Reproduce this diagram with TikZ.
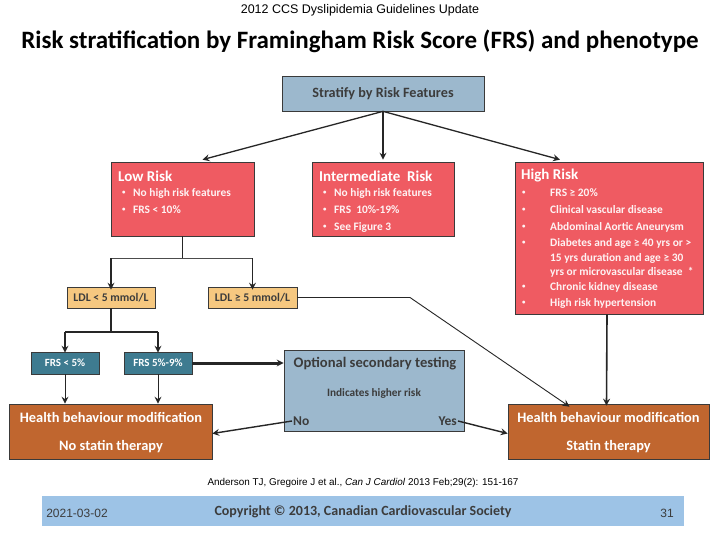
\documentclass[tikz,border=0pt]{standalone}
\usepackage{fontspec}
\setmainfont{Carlito}
\newfontfamily\arialfont{Liberation Sans}
\usetikzlibrary{arrows.meta,calc}
\definecolor{redbox}{HTML}{EF5B62}
\definecolor{bluebox}{HTML}{9CB8CD}
\definecolor{ldlbox}{HTML}{F6C880}
\definecolor{tealbox}{HTML}{3E7B90}
\definecolor{brownbox}{HTML}{C0662F}
\definecolor{footbar}{HTML}{9DC3E6}
\definecolor{darktxt}{HTML}{3C3C3C}
\definecolor{edge}{HTML}{3A3A3A}
\newcommand{\smbul}{\raisebox{0.15ex}{\scalebox{0.6}{\textbullet}}}
\tikzset{
  box/.style={draw=edge, line width=0.7pt, inner sep=0pt, anchor=center},
  redrect/.style={box, fill=redbox},
  bluerect/.style={box, fill=bluebox},
  ldlrect/.style={box, fill=ldlbox, font=\bfseries\fontsize{11.7}{13}\selectfont, text=darktxt},
  tealrect/.style={box, fill=tealbox, font=\bfseries\fontsize{11}{12}\selectfont, text=white},
  brownrect/.style={box, fill=brownbox},
  ttl/.style={anchor=west, inner sep=0pt, text=white, font=\bfseries\fontsize{15}{17}\selectfont},
  itm/.style={anchor=west, inner sep=0pt, text=white!92!redbox, font=\bfseries\fontsize{11.4}{13}\selectfont},
  wtxt/.style={inner sep=0pt, text=white, font=\bfseries\fontsize{14.4}{16}\selectfont},
  arr/.style={-{Stealth[length=7pt,width=7pt,inset=2.5pt]}, line width=1.6pt, draw=black!85},
  thinarr/.style={-{Stealth[length=7pt,width=7pt,inset=2.5pt]}, line width=0.9pt, draw=black!85},
}
\begin{document}
\begin{tikzpicture}[x=1pt,y=-1pt]
\useasboundingbox[fill=white] (0,0) rectangle (720,540);
% header
\node[inner sep=0pt, font=\arialfont\fontsize{12.5}{14}\selectfont] (hdr) at (360,10) {2012 CCS Dyslipidemia Guidelines Update};
\node[inner sep=0pt, font=\bfseries\fontsize{25}{28}\selectfont] (title) at (360,41) {Risk stratification by Framingham Risk Score (FRS) and phenotype};

% top box
\node[bluerect, minimum width=202pt, minimum height=35pt, font=\bfseries\fontsize{14.2}{16}\selectfont, text=darktxt] (strat) at (383,93.5) {Stratify by Risk Features};

% risk boxes
\node[redrect, minimum width=143pt, minimum height=74pt] (low) at (182.5,199) {};
\node[redrect, minimum width=142pt, minimum height=74pt] (mid) at (383,199) {};
\node[redrect, minimum width=188pt, minimum height=152pt] (high) at (609,238) {};

\node[ttl] (lowt) at (118,176) {Low Risk};
\node[itm] (lowb1) at (122,193) {\smbul};
\node[itm] (lowi1) at (133,193) {No high risk features};
\node[itm] (lowb2) at (122,210) {\smbul};
\node[itm] (lowi2) at (133,210) {FRS < 10\%};

\node[ttl] (midt) at (319,176) {Intermediate\ \ Risk};
\node[itm] (midb1) at (323,193) {\smbul};
\node[itm] (midi1) at (334,193) {No high risk features};
\node[itm] (midb2) at (323,210) {\smbul};
\node[itm] (midi2) at (334,210) {FRS\ \ 10\%-19\%};
\node[itm] (midb3) at (323,227) {\smbul};
\node[itm] (midi3) at (334,227) {See Figure 3};

\node[ttl] (hight) at (521,176) {High Risk};
\node[itm] (hb1) at (522,193) {\smbul};
\node[itm] (hi1) at (550,193) {FRS ≥ 20\%};
\node[itm] (hb2) at (522,210) {\smbul};
\node[itm] (hi2) at (550,210) {Clinical vascular disease};
\node[itm] (hb3) at (522,227) {\smbul};
\node[itm] (hi3) at (550,227) {Abdominal Aortic Aneurysm};
\node[itm] (hb4) at (522,243) {\smbul};
\node[itm] (hi4a) at (550,243) {Diabetes and age ≥ 40 yrs or >};
\node[itm] (hi4b) at (550,258) {15 yrs duration and age ≥ 30};
\node[itm] (hi4c) at (550,272) {yrs or microvascular disease\ \ *};
\node[itm] (hb5) at (522,287) {\smbul};
\node[itm] (hi5) at (550,287) {Chronic kidney disease};
\node[itm] (hb6) at (522,303) {\smbul};
\node[itm] (hi6) at (550,303) {High risk hypertension};

% LDL boxes
\node[ldlrect, minimum width=88pt, minimum height=21pt] (ldl1) at (111,297.5) {LDL < 5 mmol/L};
\node[ldlrect, minimum width=89pt, minimum height=21pt] (ldl2) at (252.5,297.5) {LDL ≥ 5 mmol/L};

% FRS boxes
\node[tealrect, minimum width=68pt, minimum height=22pt] (frs1) at (65,363) {FRS < 5\%};
\node[tealrect, minimum width=68pt, minimum height=22pt] (frs2) at (158,363) {FRS 5\%-9\%};

% optional
\node[bluerect, minimum width=180pt, minimum height=81pt] (opt) at (374,390.5) {};
\node[inner sep=0pt, font=\bfseries\fontsize{14.6}{16}\selectfont, text=darktxt] (optt) at (375,364) {Optional secondary testing};
\node[inner sep=0pt, font=\bfseries\fontsize{11.3}{13}\selectfont, text=darktxt] (opti) at (374,393) {Indicates higher risk};
\node[inner sep=0pt, anchor=west, font=\bfseries\fontsize{13.5}{15}\selectfont, text=darktxt] (no) at (293,421) {No};
\node[inner sep=0pt, anchor=east, font=\bfseries\fontsize{13.5}{15}\selectfont, text=darktxt] (yes) at (457,421) {Yes};

% outcome boxes
\node[brownrect, minimum width=203pt, minimum height=55pt] (hbl) at (110.5,431.5) {};
\node[wtxt] (hbl1) at (111,417) {Health behaviour modification};
\node[wtxt] (hbl2) at (111,447) {No statin therapy};
\node[brownrect, minimum width=201pt, minimum height=55pt] (hbr) at (608.5,431.5) {};
\node[wtxt] (hbr1) at (608.5,417) {Health behaviour modification};
\node[wtxt] (hbr2) at (608.5,447) {Statin therapy};

% connectors
\draw[arr, line width=1.3pt] (strat.south) -- ([xshift=20pt,yshift=2pt]low.north);
\draw[arr, line width=1.3pt] (strat.south) -- ([yshift=2pt]mid.north);
\draw[arr, line width=1.3pt] (strat.south) -- ([xshift=-49pt,yshift=2pt]high.north);

\coordinate (j1) at (182.5,258);
\draw[line width=1.8pt, draw=black!85] (low.south) -- (j1);
\draw[line width=0.9pt, draw=black!70] (ldl1.north |- j1) -- (ldl2.north |- j1);
\draw[arr] (ldl1.north |- j1) -- ([yshift=-3pt]ldl1.north);
\draw[arr] (ldl2.north |- j1) -- ([yshift=-3pt]ldl2.north);

\coordinate (j2) at (111,332);
\draw[line width=1.8pt, draw=black!85] (ldl1.south) -- (j2);
\draw[line width=1.8pt, draw=black!85] (frs1.north |- j2) -- (frs2.north |- j2);
\draw[arr] (frs1.north |- j2) -- ([yshift=-1pt]frs1.north);
\draw[arr] (frs2.north |- j2) -- ([yshift=-1pt]frs2.north);

\draw[arr, line width=3pt] (frs2.east) -- (opt.west |- frs2.east);
\draw[thinarr] (frs1.south) -- (frs1.south |- hbl.north);
\draw[thinarr] (frs2.south) -- (frs2.south |- hbl.north);

\draw[arr, line width=1.4pt] ([xshift=-1pt]no.west) -- ([yshift=-2pt]hbl.east);
\draw[arr, line width=1.4pt] ([xshift=1pt]yes.east) -- ([yshift=-2pt]hbr.west);

\coordinate (bend) at (410,297.5);
\draw[thinarr] (ldl2.east) -- (bend) -- ([xshift=-39pt,yshift=-3pt]hbr.north);
\draw[arr] ([xshift=-2pt]high.south) -- ([xshift=-2pt,yshift=-2pt]hbr.north);

% citation
\node[inner sep=0pt, font=\arialfont\fontsize{9.9}{11}\selectfont] (cite) at (363,483) {Anderson TJ, Gregoire J et al., \textit{Can J Cardiol} 2013 Feb;29(2): 151-167};

% footer
\node[fill=footbar, inner sep=0pt, minimum width=642pt, minimum height=30pt] (foot) at (363,511) {};
\node[inner sep=0pt, font=\arialfont\fontsize{12}{14}\selectfont, text=darktxt] (date) at (77,513) {2021-03-02};
\node[inner sep=0pt, font=\bfseries\fontsize{14}{16}\selectfont, text=darktxt] (copy) at (363,512) {Copyright © 2013, Canadian Cardiovascular Society};
\node[inner sep=0pt, font=\arialfont\fontsize{12}{14}\selectfont, text=darktxt] (page) at (667,513) {31};
\end{tikzpicture}
\end{document}
